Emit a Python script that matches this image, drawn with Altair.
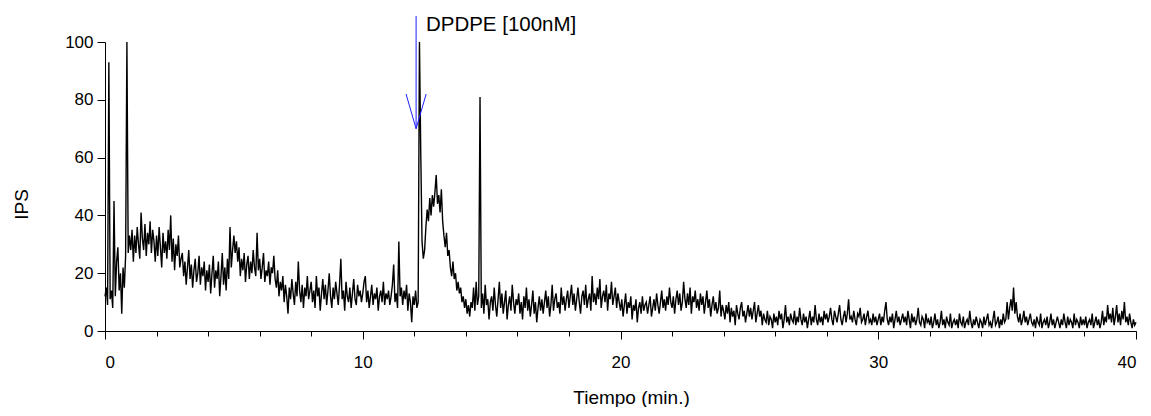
import altair as alt
import pandas as pd

# ---------------- data ----------------
sample_step_min = 0.05  # one sample every 0.05 min

ips_00_05 = [
    12, 15, 9, 93, 11, 14, 8, 45, 12, 24, 29, 14, 20, 6, 22, 15, 26, 100, 27, 33,
    28, 35, 24, 33, 27, 36, 30, 25, 41, 32, 28, 37, 26, 34, 30, 38, 27, 35, 31, 24,
    33, 26, 36, 29, 22, 34, 27, 31, 25, 35, 28, 40, 24, 32, 21, 30, 26, 33, 22, 25,
    27, 19, 24, 16, 22, 28, 18, 23, 15, 21, 25, 17, 20, 26, 16, 22, 19, 24, 14, 21,
    17, 23, 13, 20, 26, 15, 21, 18, 24, 12, 19, 27, 16, 22, 14, 25, 18, 36, 22, 28,
]
ips_05_10 = [
    33, 27, 31, 24, 29, 19, 25, 21, 27, 17, 23, 26, 18, 24, 20, 28, 22, 19, 34, 21,
    25, 18, 22, 27, 17, 21, 19, 24, 16, 22, 20, 26, 18, 15, 21, 12, 17, 14, 19, 10,
    16, 12, 6, 15, 11, 18, 13, 9, 17, 12, 24, 14, 10, 16, 8, 15, 12, 19, 11, 14,
    17, 10, 14, 8, 19, 12, 15, 7, 13, 18, 11, 16, 9, 14, 20, 12, 8, 15, 11, 17,
    13, 9, 16, 25, 11, 14, 7, 17, 12, 10, 15, 8, 13, 18, 11, 9, 16, 12, 14, 10,
]
ips_10_15 = [
    13, 17, 19, 10, 14, 8, 12, 16, 9, 13, 11, 15, 7, 12, 14, 10, 17, 9, 13, 11,
    14, 9, 12, 16, 23, 10, 13, 8, 31, 12, 15, 9, 14, 11, 16, 7, 13, 10, 3, 12,
    9, 14, 8, 10, 100, 62, 31, 25, 28, 36, 42, 38, 46, 40, 47, 43, 48, 54, 44, 47,
    41, 49, 38, 33, 29, 34, 26, 28, 22, 19, 24, 18, 20, 14, 17, 13, 15, 10, 12, 8,
    11, 6, 9, 5, 10, 8, 15, 7, 17, 9, 12, 81, 8, 13, 6, 16, 9, 11, 4, 10,
]
ips_15_20 = [
    12, 7, 15, 9, 5, 11, 17, 8, 13, 6, 10, 14, 4, 9, 12, 7, 16, 10, 6, 11,
    9, 13, 6, 10, 4, 12, 8, 15, 7, 11, 5, 9, 14, 6, 10, 3, 8, 12, 7, 11,
    6, 10, 14, 8, 12, 5, 9, 16, 7, 11, 13, 8, 10, 6, 15, 9, 12, 7, 11, 14,
    8, 12, 16, 9, 13, 7, 11, 15, 10, 6, 12, 14, 9, 16, 8, 11, 13, 7, 19, 10,
    13, 9, 15, 11, 18, 8, 12, 14, 10, 16, 7, 13, 11, 17, 9, 12, 15, 8, 13, 10,
]
ips_20_25 = [
    7, 11, 5, 9, 13, 6, 10, 8, 12, 4, 9, 7, 11, 3, 8, 10, 6, 12, 7, 9,
    10, 6, 9, 12, 5, 8, 11, 7, 13, 9, 6, 10, 14, 8, 11, 7, 12, 9, 15, 10,
    8, 12, 6, 11, 14, 9, 13, 7, 10, 17, 11, 8, 13, 9, 15, 6, 12, 10, 14, 8,
    11, 7, 13, 9, 12, 6, 10, 14, 8, 11, 5, 9, 12, 7, 10, 6, 8, 14, 5, 9,
    7, 4, 9, 6, 10, 3, 8, 5, 7, 2, 9, 6, 4, 8, 10, 5, 7, 3, 6, 9,
]
ips_25_30 = [
    5, 8, 4, 7, 10, 3, 6, 9, 5, 7, 2, 6, 4, 3, 7, 2, 5, 4, 1, 6,
    3, 5, 2, 7, 4, 6, 1, 4, 9, 3, 5, 2, 6, 4, 3, 7, 2, 5, 3, 8,
    4, 2, 6, 3, 5, 1, 4, 7, 2, 5, 3, 9, 4, 2, 6, 3, 5, 2, 7, 4,
    6, 3, 5, 8, 4, 2, 7, 5, 3, 6, 9, 4, 2, 5, 7, 3, 6, 11, 4, 5,
    3, 7, 4, 2, 6, 5, 8, 3, 4, 6, 2, 5, 7, 3, 4, 2, 6, 3, 5, 2,
]
ips_30_35 = [
    4, 6, 2, 5, 3, 7, 10, 4, 2, 5, 3, 6, 1, 4, 7, 3, 5, 2, 4, 6,
    3, 5, 2, 7, 4, 1, 6, 3, 5, 2, 4, 8, 3, 2, 5, 4, 1, 6, 3, 4,
    2, 5, 1, 3, 6, 2, 4, 1, 3, 7, 2, 4, 1, 5, 3, 2, 6, 1, 3, 4,
    2, 4, 1, 6, 3, 2, 5, 1, 3, 4, 2, 7, 3, 1, 4, 2, 5, 3, 1, 4,
    3, 1, 5, 2, 4, 6, 2, 3, 1, 4, 7, 2, 3, 5, 1, 4, 2, 6, 3, 4,
]
ips_35_40 = [
    10, 4, 8, 11, 7, 15, 6, 10, 5, 3, 6, 2, 4, 7, 3, 5, 2, 4, 6, 3,
    2, 4, 1, 5, 3, 2, 6, 1, 3, 4, 2, 5, 1, 3, 6, 2, 4, 1, 3, 5,
    3, 1, 4, 2, 6, 3, 1, 5, 2, 4, 3, 1, 6, 2, 4, 3, 1, 5, 2, 4,
    2, 5, 1, 3, 4, 2, 6, 1, 3, 5, 2, 4, 1, 3, 7, 2, 5, 3, 9, 4,
    6, 3, 8, 2, 5, 9, 3, 6, 2, 7, 4, 10, 3, 5, 2, 6, 3, 1, 4, 2,
    3,
]

x_major_ticks = [0, 10, 20, 30, 40]
x_minor_ticks = [0, 2, 4, 6, 8, 10, 12, 14, 16, 18, 20, 22, 24, 26, 28, 30, 32, 34, 36, 38, 40]
y_ticks = [0, 20, 40, 60, 80, 100]
x_domain = [0, 40]
y_domain = [0, 100]

# annotation (drug application arrow)
arrow_x_start = [12.07, 11.68, 12.46]
arrow_y_start = [109, 82, 82]
arrow_x_end = [12.07, 12.07, 12.07]
arrow_y_end = [70, 70, 70]
label_x = [12.45]
label_y = [106]
label_text = ["DPDPE [100nM]"]

# ---------------- tables ----------------
ips_all = ips_00_05 + ips_05_10 + ips_10_15 + ips_15_20 + ips_20_25 + ips_25_30 + ips_30_35 + ips_35_40
times = [round(i * sample_step_min, 2) for i in range(len(ips_all))]
trace_df = pd.DataFrame({"t": times, "ips": ips_all})
minor_df = pd.DataFrame({"t": x_domain})
arrow_df = pd.DataFrame({"x": arrow_x_start, "ips": arrow_y_start, "x2": arrow_x_end, "y2": arrow_y_end})
label_df = pd.DataFrame({"x": label_x, "ips": label_y, "text": label_text})

FONT = "Liberation Sans"
xscale = alt.Scale(domain=x_domain, nice=False, zero=False)
yscale = alt.Scale(domain=y_domain, nice=False, zero=False)

y_axis = alt.Axis(
    values=y_ticks, tickSize=8, format="d", grid=False,
    labelFontSize=17, titleFontSize=19, labelPadding=4, titlePadding=33, titleY=162,
)

trace = alt.Chart(trace_df).mark_line(color="black", strokeWidth=1.4).encode(
    x=alt.X(
        "t:Q",
        scale=xscale,
        axis=alt.Axis(
            values=x_major_ticks, tickSize=8, format="d", grid=False, orient="bottom",
            title="Tiempo (min.)", labelFontSize=17, titleFontSize=19,
            labelPadding=15, titleX=526, titleY=72, titleBaseline="alphabetic",
        ),
    ),
    y=alt.Y("ips:Q", scale=yscale, title="IPS", axis=y_axis),
)

minor = alt.Chart(minor_df).mark_point(opacity=0).encode(
    x=alt.X(
        "t:Q",
        scale=xscale,
        title=None,
        axis=alt.Axis(values=x_minor_ticks, tickSize=5, labels=False, domain=False,
                      grid=False, orient="bottom"),
    ),
)

arrow = alt.Chart(arrow_df).mark_rule(color="#1f1fff", strokeWidth=1).encode(
    x=alt.X("x:Q", scale=xscale, axis=None),
    y=alt.Y("ips:Q", scale=yscale, title="IPS"),
    x2="x2:Q",
    y2="y2:Q",
)

label = alt.Chart(label_df).mark_text(
    align="left", baseline="middle", fontSize=20.5, font=FONT, color="black"
).encode(
    x=alt.X("x:Q", scale=xscale, axis=None),
    y=alt.Y("ips:Q", scale=yscale, title="IPS"),
    text="text:N",
)

chart = (
    alt.layer(trace, minor, arrow, label)
    .resolve_axis(x="independent")
    .properties(
        width=1031,
        height=289,
        autosize=alt.AutoSizeParams(type="none"),
        padding={"left": 97, "top": 34, "right": 7, "bottom": 76},
        background="white",
    )
    .configure_view(stroke=None)
    .configure_axis(
        domainColor="black", tickColor="black", labelColor="black", titleColor="black",
        labelFont=FONT, titleFont=FONT, titleFontWeight="normal",
        domainWidth=1, tickWidth=1,
    )
)

chart.save("out.html", embed_options={"renderer": "svg", "actions": False})
